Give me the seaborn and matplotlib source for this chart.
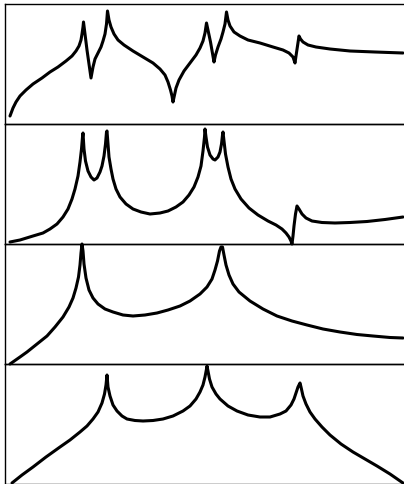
import numpy as np
import pandas as pd
import seaborn as sns
import matplotlib
matplotlib.use("Agg")
import matplotlib.pyplot as plt

sns.set_style("white")

# curve samples: (x in pixels, height above the panel floor in pixels)
panel1 = [(10, 8), (13, 16), (16, 22), (20, 28), (26, 34), (33, 40), (42, 46), (50, 52), (58, 57),
          (66, 63), (72, 68), (76, 73), (79, 78), (81, 84), (82, 90), (83, 97), (83.5, 102),
          (87, 74), (91, 46), (93, 57), (95, 65), (98, 71), (101, 77), (103, 83), (105, 90),
          (106.5, 100), (107.5, 113), (109, 104), (111, 97), (114, 90), (118, 84), (124, 79),
          (133, 73), (143, 67), (153, 61), (160, 55), (165, 49), (168, 42), (170.5, 34), (172, 28),
          (173, 22), (174.5, 29), (176, 36), (179, 44), (184, 53), (190, 61), (196, 69), (200, 76),
          (203, 83), (205, 91), (206.5, 101), (210.5, 82), (214, 62), (215.5, 69), (218, 77),
          (221, 85), (223, 92), (225, 100), (226.5, 112), (228, 104), (230, 98), (234, 92),
          (240, 88), (248, 84), (260, 81), (273, 77), (283, 74), (289, 71), (293, 67), (295, 61),
          (296, 68), (297.5, 78), (299, 88), (300.5, 85), (303, 82), (308, 79), (316, 77),
          (330, 75), (350, 73), (375, 72), (403, 71)]

panel2 = [(10, 2), (20, 4), (33, 8), (43, 11), (50, 15), (57, 20), (63, 27), (68, 35), (72, 45),
          (75, 55), (78, 68), (80, 82), (81.5, 95), (82.5, 107), (83, 111), (84, 95), (85.5, 83),
          (88, 73), (91, 67), (94, 64), (97, 66), (100, 72), (102, 78), (104, 88), (105.5, 100),
          (106.5, 112), (107, 113), (108, 100), (109, 87), (111, 75), (113, 65), (116, 55),
          (120, 47), (126, 40), (133, 35), (141, 32), (150, 30), (160, 31), (168, 33), (176, 37),
          (183, 42), (189, 49), (194, 57), (198, 67), (201, 78), (203, 93), (204.5, 107),
          (205, 115), (206, 107), (207.5, 97), (210, 89), (213, 85), (215, 84), (218, 87),
          (220, 92), (221.5, 100), (222.5, 109), (223, 112), (224, 103), (225.5, 90), (228, 77),
          (231, 65), (235, 55), (241, 45), (249, 36), (258, 29), (268, 23), (276, 19), (282, 15),
          (286, 11), (289, 7), (291, 3), (292, 0), (293, 8), (294, 18), (295.5, 30), (297, 38),
          (299, 35), (302, 30), (306, 26), (312, 23), (322, 21.5), (335, 21), (350, 21.5),
          (367, 22.5), (385, 24.5), (403, 27)]

panel3 = [(10, 0), (20, 7), (27, 12), (37, 20), (47, 28), (55, 37), (63, 47), (69, 57), (73, 66),
          (76, 76), (78.5, 87), (80, 99), (81, 111), (82, 120), (83, 113), (84, 100), (86, 86),
          (89, 74), (93, 66), (98, 60), (105, 55), (113, 52), (123, 49), (133, 48), (145, 49),
          (157, 51), (168, 54), (180, 58), (190, 63), (200, 70), (207, 77), (212, 85), (215, 94),
          (217.5, 103), (219.5, 113), (221, 117), (222.5, 117), (224, 109), (226, 99), (229, 89),
          (233, 80), (239, 72), (250, 63), (263, 55), (277, 48), (292, 43), (307, 39), (323, 35),
          (340, 32), (357, 29.5), (373, 28), (390, 26.5), (403, 26)]

panel4 = [(12, 1), (22, 9), (33, 17), (46, 27), (60, 37), (70, 44), (80, 52), (87, 58), (93, 65),
          (98, 72), (102, 81), (104.5, 90), (106, 99), (107, 109), (108, 97), (110, 88), (113, 79),
          (117, 73), (122, 68), (127, 65), (135, 63.5), (143, 63), (153, 63.5), (163, 65),
          (173, 68), (183, 73), (190, 78), (196, 85), (200, 92), (203, 99), (205, 107),
          (206.5, 115), (207, 118), (208, 113), (209.5, 105), (212, 97), (216, 90), (220, 85),
          (228, 78), (237, 73), (248, 69), (260, 67), (270, 67), (280, 70), (286, 73), (291, 79),
          (294, 85), (296, 91), (298, 97), (300, 101), (301, 97), (303, 88), (306, 80), (310, 72),
          (315, 65), (322, 57), (330, 49), (341, 40), (353, 32), (365, 25), (377, 18), (390, 10),
          (403, 1)]

panels = [panel1, panel2, panel3, panel4]

W, H = 404, 485
fig = plt.figure(figsize=(W / 100, H / 100), dpi=100)

left, right = 5, 420
for i, pts in enumerate(panels):
    top = 5 + 120 * i
    ax = fig.add_axes([left / W, (H - top - 120) / H, (right - left) / W, 120 / H])
    ax.patch.set_alpha(0)
    df = pd.DataFrame(pts, columns=["x", "y"])
    sns.lineplot(data=df, x="x", y="y", ax=ax, color="black", lw=2.2,
                 sort=False, clip_on=False, solid_joinstyle="round")
    ax.set_xlim(left, right)
    ax.set_ylim(0, 120)
    ax.set_xticks([])
    ax.set_yticks([])
    ax.set_xlabel("")
    ax.set_ylabel("")
    for s in ax.spines.values():
        s.set_color("black")
        s.set_linewidth(1.0)

fig.savefig("out.png", dpi=100)
